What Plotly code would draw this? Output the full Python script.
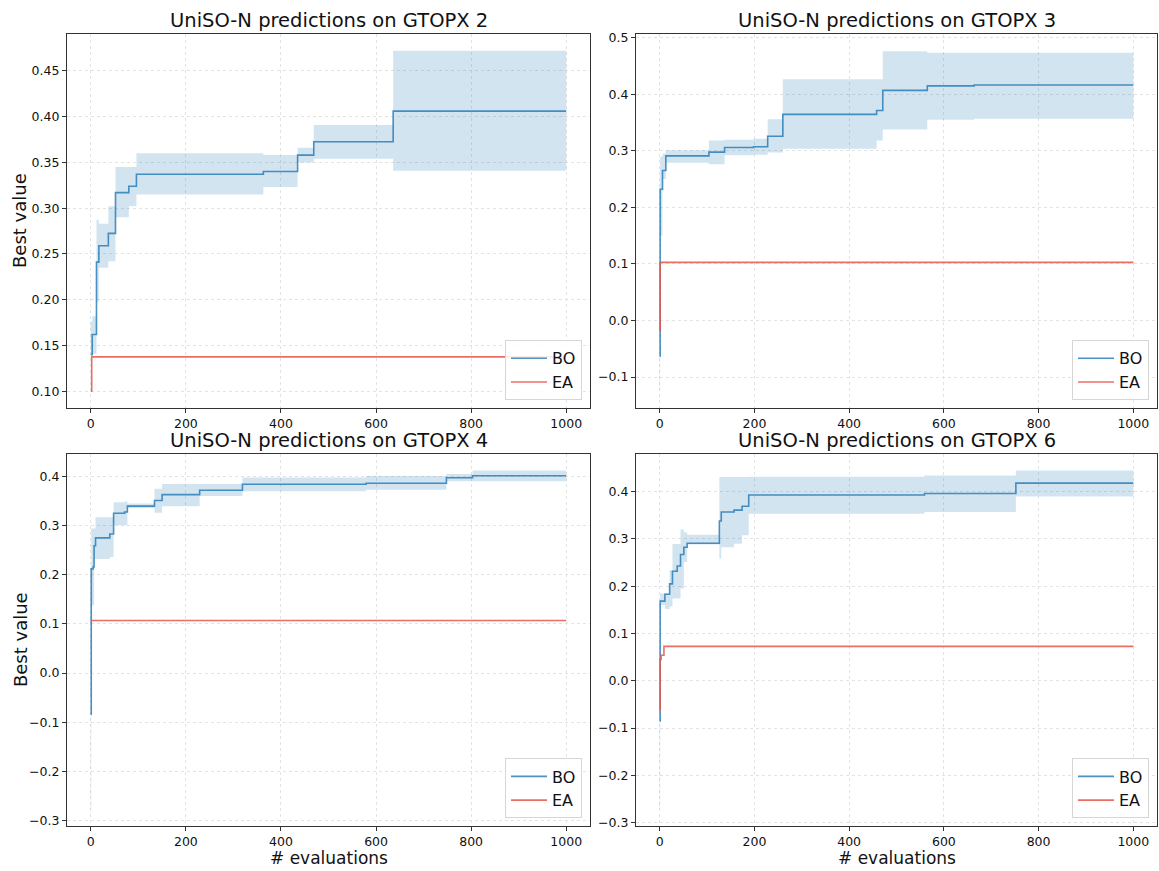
import plotly.graph_objects as go

W, H = 1159, 871

titles = ["UniSO-N predictions on GTOPX 2", "UniSO-N predictions on GTOPX 3",
          "UniSO-N predictions on GTOPX 4", "UniSO-N predictions on GTOPX 6"]
series_names = ["BO", "EA"]
x_ticks = [0, 200, 400, 600, 800, 1000]

# ---- GTOPX 2 ----
g2_bo_x = [0, 3, 12, 17, 37, 52, 80, 96, 363, 435, 469, 636, 1000]
g2_bo_mean = [0.140, 0.162, 0.241, 0.259, 0.2725, 0.317, 0.324, 0.337, 0.340, 0.358, 0.3725, 0.406, 0.406]
g2_bo_low = [0.140, 0.141, 0.198, 0.235, 0.242, 0.290, 0.302, 0.315, 0.323, 0.350, 0.354, 0.341, 0.341]
g2_bo_up = [0.176, 0.182, 0.287, 0.283, 0.302, 0.345, 0.345, 0.360, 0.358, 0.366, 0.391, 0.472, 0.472]
g2_ea_x = [0, 2, 1000]
g2_ea_y = [0.100, 0.1375, 0.1375]

# ---- GTOPX 3 ----
g3_bo_x = [0, 1, 6, 13, 104, 137, 198, 228, 260, 458, 471, 565, 664, 1000]
g3_bo_mean = [-0.063, 0.232, 0.265, 0.291, 0.2976, 0.3058, 0.307, 0.3257, 0.3643, 0.371, 0.4067, 0.4146, 0.4163, 0.4163]
g3_bo_low = [-0.124, 0.150, 0.250, 0.279, 0.276, 0.292, 0.293, 0.2967, 0.3037, 0.318, 0.3375, 0.355, 0.3566, 0.3566]
g3_bo_up = [-0.005, 0.290, 0.295, 0.301, 0.318, 0.3195, 0.321, 0.3557, 0.4263, 0.4263, 0.4759, 0.473, 0.473, 0.473]
g3_ea_x = [0, 1, 1000]
g3_ea_y = [-0.0175, 0.1028, 0.1028]

# ---- GTOPX 4 ----
g4_bo_x = [0, 1, 5, 7, 10, 40, 48, 71, 77, 134, 150, 229, 319, 579, 748, 803, 1000]
g4_bo_mean = [-0.084, 0.212, 0.216, 0.259, 0.275, 0.283, 0.325, 0.3275, 0.3395, 0.351, 0.363, 0.3718, 0.384, 0.386, 0.3974, 0.4013, 0.4013]
g4_bo_low = [-0.279, 0.138, 0.138, 0.232, 0.232, 0.236, 0.3006, 0.3006, 0.336, 0.326, 0.3395, 0.360, 0.370, 0.373, 0.390, 0.390, 0.390]
g4_bo_up = [0.138, 0.294, 0.294, 0.294, 0.317, 0.317, 0.3476, 0.349, 0.345, 0.375, 0.3846, 0.3846, 0.398, 0.401, 0.405, 0.412, 0.412]
g4_ea_x = [0, 1000]
g4_ea_y = [0.107, 0.107]

# ---- GTOPX 6 ----
g6_bo_x = [0, 1, 11, 21, 27, 37, 44, 51, 58, 126, 130, 157, 174, 188, 559, 752, 1000]
g6_bo_mean = [-0.085, 0.1685, 0.183, 0.205, 0.2315, 0.2427, 0.267, 0.2825, 0.291, 0.338, 0.357, 0.361, 0.369, 0.393, 0.396, 0.418, 0.418]
g6_bo_low = [-0.273, 0.160, 0.152, 0.157, 0.174, 0.174, 0.195, 0.251, 0.288, 0.258, 0.2825, 0.290, 0.308, 0.353, 0.357, 0.3895, 0.3895]
g6_bo_up = [-0.060, 0.1846, 0.1846, 0.2336, 0.2895, 0.2895, 0.320, 0.314, 0.309, 0.431, 0.431, 0.431, 0.431, 0.4315, 0.434, 0.445, 0.445]
g6_ea_x = [0, 1, 3, 9, 1000]
g6_ea_y = [-0.062, 0.045, 0.054, 0.0727, 0.0727]

panels = [
    (g2_bo_x, g2_bo_mean, g2_bo_low, g2_bo_up, g2_ea_x, g2_ea_y),
    (g3_bo_x, g3_bo_mean, g3_bo_low, g3_bo_up, g3_ea_x, g3_ea_y),
    (g4_bo_x, g4_bo_mean, g4_bo_low, g4_bo_up, g4_ea_x, g4_ea_y),
    (g6_bo_x, g6_bo_mean, g6_bo_low, g6_bo_up, g6_ea_x, g6_ea_y),
]

# layout (pixel boxes of the four axes)
boxes = [(67, 590, 30, 408), (636, 1157, 30, 408), (67, 590, 454, 830), (636, 1157, 454, 830)]
y_ranges = [[0.0814, 0.4906], [-0.155, 0.5068], [-0.312, 0.446], [-0.308, 0.480]]
y_dticks = [0.05, 0.1, 0.1, 0.1]
y_formats = [".2f", ".1f", ".1f", ".1f"]

BLUE = "rgba(31,119,180,0.8)"
BAND = "rgba(31,119,180,0.2)"
RED = "rgba(230,85,72,0.85)"
FONT = "DejaVu Sans"

fig = go.Figure()
annotations = []
layout = {}

for i, (bx, bm, bl, bu, ex, ey) in enumerate(panels):
    n = i + 1
    xa = "x" if n == 1 else f"x{n}"
    ya = "y" if n == 1 else f"y{n}"
    leg = "legend" if n == 1 else f"legend{n}"
    fig.add_trace(go.Scatter(x=bx, y=bl, mode="lines", line=dict(width=0, shape="hv"),
                             hoverinfo="skip", showlegend=False, xaxis=xa, yaxis=ya, legend=leg))
    fig.add_trace(go.Scatter(x=bx, y=bu, mode="lines", line=dict(width=0, shape="hv"),
                             fill="tonexty", fillcolor=BAND, hoverinfo="skip",
                             showlegend=False, xaxis=xa, yaxis=ya, legend=leg))
    fig.add_trace(go.Scatter(x=bx, y=bm, mode="lines", name=series_names[0],
                             line=dict(color=BLUE, width=1.6, shape="hv"),
                             xaxis=xa, yaxis=ya, legend=leg))
    fig.add_trace(go.Scatter(x=ex, y=ey, mode="lines", name=series_names[1],
                             line=dict(color=RED, width=1.6, shape="hv"),
                             xaxis=xa, yaxis=ya, legend=leg))

    l, r, t, b = boxes[i]
    dx = [l / W, r / W]
    dy = [1 - b / H, 1 - t / H]
    axis_common = dict(showline=True, linecolor="#333333", linewidth=1.1, mirror=True,
                       ticks="outside", ticklen=4, tickcolor="#333333",
                       showgrid=True, gridcolor="#e3e3e3", griddash="3px,3px", gridwidth=0.8,
                       zeroline=False, tickfont=dict(family=FONT, size=12.5, color="#111111"))
    layout["xaxis" if n == 1 else f"xaxis{n}"] = dict(
        domain=dx, range=[-50, 1050], tickvals=x_ticks, anchor=ya, **axis_common)
    layout["yaxis" if n == 1 else f"yaxis{n}"] = dict(
        domain=dy, range=y_ranges[i], dtick=y_dticks[i], tick0=0,
        tickformat=y_formats[i], anchor=xa, **axis_common)
    layout[leg] = dict(x=(r - 8) / W, y=1 - (b - 8) / H, xanchor="right", yanchor="bottom",
                       traceorder="normal",
                       bgcolor="rgba(255,255,255,0.85)", bordercolor="#d6d6d6", borderwidth=1,
                       font=dict(family=FONT, size=16, color="#111111"),
                       tracegroupgap=2, itemwidth=36)
    annotations.append(dict(text=titles[i], x=(l + r) / 2 / W, y=1 - (t - 13) / H,
                            xref="paper", yref="paper", showarrow=False,
                            xanchor="center", yanchor="middle",
                            font=dict(family=FONT, size=19.5, color="#111111")))

# axis labels
for (l, r, t, b) in [boxes[0], boxes[2]]:
    annotations.append(dict(text="Best value", x=20 / W, y=1 - (t + b) / 2 / H,
                            xref="paper", yref="paper", showarrow=False, textangle=-90,
                            xanchor="center", yanchor="middle",
                            font=dict(family=FONT, size=18, color="#111111")))
for (l, r, t, b) in [boxes[2], boxes[3]]:
    annotations.append(dict(text="# evaluations", x=(l + r) / 2 / W, y=1 - 862 / H,
                            xref="paper", yref="paper", showarrow=False,
                            xanchor="center", yanchor="middle",
                            font=dict(family=FONT, size=17, color="#111111")))

fig.update_layout(width=W, height=H, margin=dict(l=0, r=0, t=0, b=0),
                  paper_bgcolor="white", plot_bgcolor="white",
                  font=dict(family=FONT), annotations=annotations, **layout)

fig.write_html("out.html", config={"displayModeBar": False},
               post_script="document.body.style.margin='0px';document.body.style.overflow='hidden';")
